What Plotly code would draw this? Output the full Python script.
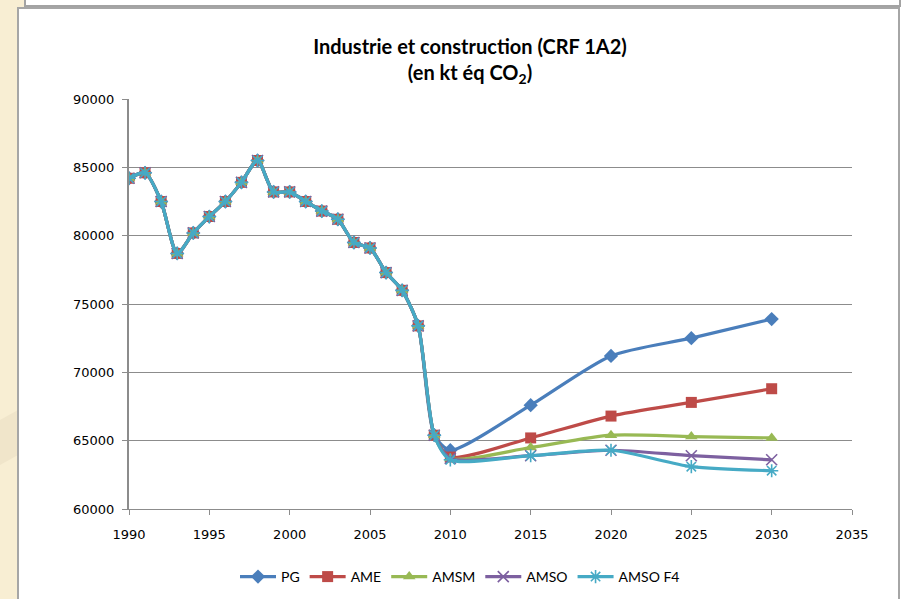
"""Industrie et construction (CRF 1A2) - emission scenarios, Excel-style line chart."""

import plotly.graph_objects as go

# --- data -------------------------------------------------------------------
YEARS = list(range(1990, 2011)) + [2015, 2020, 2025, 2030]

HIST = [84200, 84600, 82500, 78700, 80200, 81400, 82500, 83900, 85500, 83200,
        83200, 82500, 81800, 81200, 79500, 79100, 77300, 76000, 73400, 65400]

PG = HIST + [64300, 67600, 71200, 72500, 73900]
AME = HIST + [63800, 65200, 66800, 67800, 68800]
AMSM = HIST + [63700, 64500, 65400, 65300, 65200]
AMSO = HIST + [63700, 63900, 64300, 63900, 63600]
AMSO_F4 = HIST + [63600, 63900, 64300, 63100, 62800]

SERIES = [
    ("PG", PG),
    ("AME", AME),
    ("AMSM", AMSM),
    ("AMSO", AMSO),
    ("AMSO F4", AMSO_F4),
]

Y_TICKS = [60000, 65000, 70000, 75000, 80000, 85000, 90000]
X_TICKS = [1990, 1995, 2000, 2005, 2010, 2015, 2020, 2025, 2030, 2035]

# --- styling ----------------------------------------------------------------
COLORS = ["#4A7EBB", "#BE4B48", "#98B954", "#7D60A0", "#46AAC5"]
SYMBOLS = ["diamond", "square", "triangle-up", "x-thin-open", "asterisk-open"]
SIZES = [11, 11, 11, 11, 11]

TITLE_FONT = "Lato, Open Sans, sans-serif"
TICK_FONT = "DejaVu Sans, Verdana, sans-serif"
GRID = "#8C8C8C"

W, H = 901, 599
L, R, T, B = 129, 49, 99, 90   # plot area 129..852 x 99..509


def px(x):
    return (x - L) / (W - L - R)


def py(y):
    return (H - B - y) / (H - T - B)


fig = go.Figure()
for (name, vals), color, symbol, size in zip(SERIES, COLORS, SYMBOLS, SIZES):
    open_marker = symbol.endswith("open")
    fig.add_trace(go.Scatter(
        x=YEARS,
        y=vals,
        name=name,
        mode="lines+markers",
        line=dict(color=color, width=3.2, shape="spline", smoothing=0.7),
        marker=dict(
            symbol=symbol,
            size=size,
            color=color,
            line=dict(color=color, width=1.6 if open_marker else 0),
        ),
    ))

shapes = [
    # beige slide strip on the left
    dict(type="rect", xref="paper", yref="paper", x0=px(0), x1=px(18), y0=py(H), y1=py(0),
         fillcolor="#F8EED3", line_width=0, layer="above"),
    dict(type="rect", xref="paper", yref="paper", x0=px(0), x1=px(25), y0=py(7), y1=py(0),
         fillcolor="#F8EED3", line_width=0, layer="above"),
    dict(type="path", xref="paper", yref="paper", layer="above", line_width=0,
         fillcolor="#F0E5CA",
         path=f"M {px(0)},{py(420)} L {px(18)},{py(410)} L {px(18)},{py(455)} L {px(0)},{py(465)} Z"),
    # box above the chart
    dict(type="rect", xref="paper", yref="paper", x0=px(25), x1=px(900), y0=py(6), y1=py(-3),
         fillcolor="rgba(0,0,0,0)", line=dict(color="#A3A3A3", width=2), layer="above"),
    # chart frame
    dict(type="rect", xref="paper", yref="paper", x0=px(18), x1=px(899), y0=py(602), y1=py(8),
         fillcolor="rgba(0,0,0,0)", line=dict(color="#A6A6A6", width=2), layer="above"),
]

fig.update_layout(
    width=W,
    height=H,
    margin=dict(l=L, r=R, t=T, b=B),
    paper_bgcolor="white",
    plot_bgcolor="white",
    title=dict(
        text="<b>Industrie et construction (CRF 1A2)</b><br><b>(en kt éq CO<sub>2</sub>)</b>",
        x=470 / W,
        xanchor="center",
        y=1 - 54 / H,
        yanchor="top",
        font=dict(family=TITLE_FONT, size=20, color="#000000"),
    ),
    showlegend=True,
    legend=dict(
        orientation="h",
        x=460 / W,
        xanchor="center",
        xref="container",
        y=1 - 577 / H,
        yref="container",
        yanchor="middle",
        font=dict(family=TITLE_FONT, size=14, color="#000000"),
        itemwidth=36,
        tracegroupgap=0,
    ),
    shapes=shapes,
)

fig.update_xaxes(
    range=[1990, 2035],
    tickvals=X_TICKS,
    showgrid=False,
    zeroline=False,
    showline=True,
    linecolor=GRID,
    linewidth=1,
    ticks="outside",
    ticklen=5,
    tickcolor=GRID,
    ticklabelstandoff=8,
    tickfont=dict(family=TICK_FONT, size=13, color="#000000"),
)
fig.update_yaxes(
    range=[60000, 90000],
    tickvals=Y_TICKS,
    tickformat="d",
    showgrid=True,
    gridcolor=GRID,
    gridwidth=1,
    zeroline=False,
    showline=True,
    linecolor=GRID,
    linewidth=2,
    ticks="outside",
    ticklen=5,
    tickcolor=GRID,
    ticklabelstandoff=5,
    tickfont=dict(family=TICK_FONT, size=13, color="#000000"),
)

# drop the default page margin so the figure sits at the window's corner
fig.write_html(
    "out.html",
    config={"displayModeBar": False},
    post_script="document.body.style.margin = '0';",
)
